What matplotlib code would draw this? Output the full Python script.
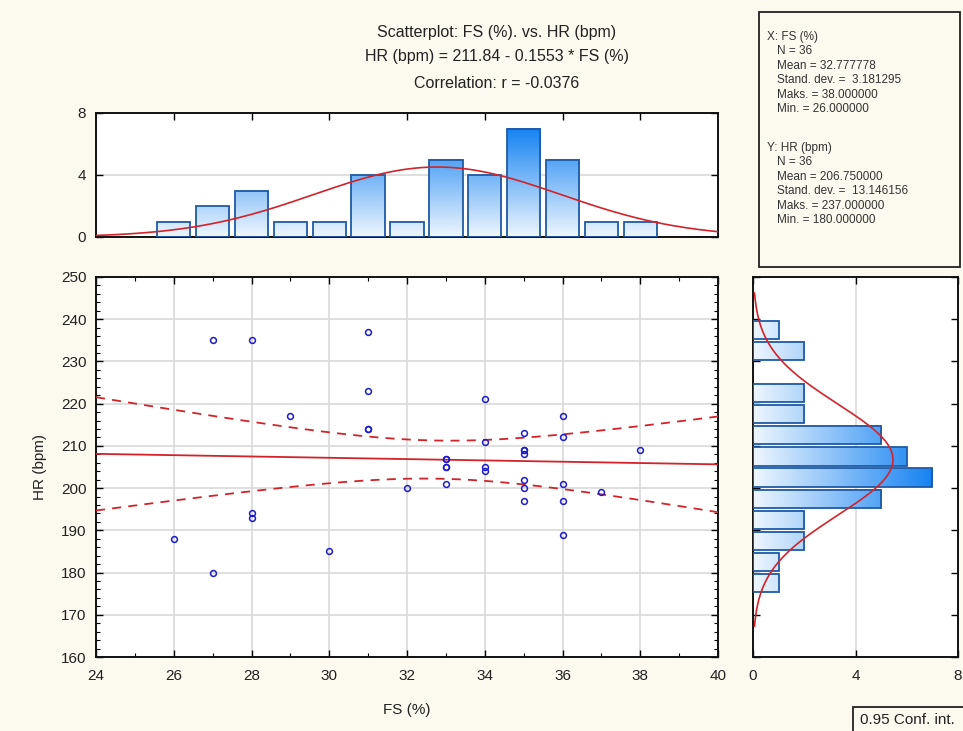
import numpy as np
import matplotlib.pyplot as plt
from matplotlib.colors import LinearSegmentedColormap
from matplotlib.patches import Rectangle
from matplotlib.ticker import MultipleLocator

plt.rcParams['font.family'] = ['Liberation Sans', 'DejaVu Sans']

# FS (%) and HR (bpm) for each subject
fs = np.array([26, 27, 27, 28, 28, 28, 29, 30, 31, 31, 31, 31, 32, 33, 33, 33, 33, 33,
               34, 34, 34, 34, 35, 35, 35, 35, 35, 35, 35, 36, 36, 36, 36, 36, 37, 38])
hr = np.array([188, 235, 180, 235, 194, 193, 217, 185, 237, 223, 214, 214, 200, 207, 207, 205, 205, 201,
               221, 211, 205, 204, 213, 209, 209, 208, 202, 200, 197, 217, 212, 201, 197, 189, 199, 209])

fs_bins = np.arange(26, 39)          # one bar per integer FS value
hr_edges = np.arange(175, 245, 5)    # HR classes (lo, hi]
t_crit = 2.0322                      # t(0.975, df=34)

W, H = 963, 731
bg = '#fcf9ee'
red = '#d2232a'
edge = '#1f5aa6'
grid_c = '#d9d9d9'
txt = '#222222'
blues = LinearSegmentedColormap.from_list('bars', ['#eef6fe', '#1683f2'])


def fig_rect(x0, y0, x1, y1):
    # pixel box (y from top) -> figure fraction
    return [x0 / W, 1 - y1 / H, (x1 - x0) / W, (y1 - y0) / H]


def style_ticks(a):
    a.tick_params(which='both', direction='in', top=True, right=True, colors='black',
                  labelcolor=txt, labelsize=11)
    a.tick_params(which='major', length=5, width=1)
    a.tick_params(which='minor', length=3, width=0.8)
    for s in a.spines.values():
        s.set_linewidth(1.4)
        s.set_color('#111111')


n = len(fs)
slope, intercept = np.polyfit(fs, hr, 1)
r = np.corrcoef(fs, hr)[0, 1]
resid = hr - (intercept + slope * fs)
s_res = np.sqrt(np.sum(resid ** 2) / (n - 2))
sxx = np.sum((fs - fs.mean()) ** 2)

fig = plt.figure(figsize=(W / 100, H / 100), dpi=100, facecolor=bg)
ax = fig.add_axes(fig_rect(96, 277, 718, 657))
ax_top = fig.add_axes(fig_rect(96, 113, 718, 237))
ax_right = fig.add_axes(fig_rect(753, 277, 958, 657))

# --- scatter with regression line and 95% confidence band
xx = np.linspace(24, 40, 200)
yy = intercept + slope * xx
band = t_crit * s_res * np.sqrt(1 / n + (xx - fs.mean()) ** 2 / sxx)
ax.plot(xx, yy, color=red, lw=1.3, zorder=3)
ax.plot(xx, yy + band, color=red, lw=1.3, ls=(0, (5, 4)), zorder=3)
ax.plot(xx, yy - band, color=red, lw=1.3, ls=(0, (5, 4)), zorder=3)
ax.plot(fs, hr, 'o', ms=4.2, mfc='none', mec='#1c1cc8', mew=1.1, zorder=4)
ax.set_xlim(24, 40)
ax.set_ylim(160, 250)
ax.xaxis.set_major_locator(MultipleLocator(2))
ax.xaxis.set_minor_locator(MultipleLocator(1))
ax.yaxis.set_major_locator(MultipleLocator(10))
ax.yaxis.set_minor_locator(MultipleLocator(2))
ax.grid(True, which='major', color=grid_c, lw=1.2)
ax.set_axisbelow(True)
style_ticks(ax)
ax.tick_params(axis='x', pad=9)
ax.tick_params(axis='y', pad=7)
ax.set_xlabel('FS (%)', fontsize=11, color=txt, labelpad=14)
ax.set_ylabel('HR (bpm)', fontsize=11, color=txt, labelpad=10)

# --- FS histogram on top
fs_counts = np.array([np.sum(fs == v) for v in fs_bins])
bw = 0.86
for v, c in zip(fs_bins, fs_counts):
    x0, x1 = v - bw / 2, v + bw / 2
    grad = np.linspace(0, c, 64).reshape(-1, 1)
    ax_top.imshow(grad, extent=[x0, x1, 0, c], origin='lower', cmap=blues, vmin=0, vmax=7,
                  aspect='auto', zorder=2)
    ax_top.add_patch(Rectangle((x0, 0), bw, c, fill=False, ec=edge, lw=1.3, zorder=3))
xf = np.linspace(24, 40, 200)
pdf_x = n * 1 * np.exp(-0.5 * ((xf - fs.mean()) / fs.std(ddof=1)) ** 2) / (fs.std(ddof=1) * np.sqrt(2 * np.pi))
ax_top.plot(xf, pdf_x, color=red, lw=1.2, zorder=4)
ax_top.set_xlim(24, 40)
ax_top.set_ylim(0, 8)
ax_top.set_xticks(np.arange(26, 40, 2))
ax_top.set_xticklabels([])
ax_top.set_yticks([0, 4, 8])
ax_top.grid(True, axis='y', color=grid_c, lw=1.2)
ax_top.set_axisbelow(True)
style_ticks(ax_top)
ax_top.tick_params(axis='y', pad=7)

# --- HR histogram on the right
hr_counts = np.array([np.sum((hr > lo) & (hr <= lo + 5)) for lo in hr_edges[:-1]])
bh = 5 * 0.86
for lo, c in zip(hr_edges[:-1], hr_counts):
    if c == 0:
        continue
    y0 = lo + 2.5 - bh / 2
    grad = np.linspace(0, c, 64).reshape(1, -1)
    ax_right.imshow(grad, extent=[0, c, y0, y0 + bh], origin='lower', cmap=blues, vmin=0, vmax=7,
                    aspect='auto', zorder=2)
    ax_right.add_patch(Rectangle((0, y0), c, bh, fill=False, ec=edge, lw=1.3, zorder=3))
sd_y = hr.std(ddof=1)
yf = np.linspace(hr.mean() - 3 * sd_y, hr.mean() + 3 * sd_y, 200)
pdf_y = n * 5 * np.exp(-0.5 * ((yf - hr.mean()) / sd_y) ** 2) / (sd_y * np.sqrt(2 * np.pi))
ax_right.plot(pdf_y, yf, color=red, lw=1.2, zorder=4)
ax_right.set_xlim(0, 8)
ax_right.set_ylim(160, 250)
ax_right.set_xticks([0, 4, 8])
ax_right.yaxis.set_major_locator(MultipleLocator(10))
ax_right.set_yticklabels([])
ax_right.grid(True, axis='x', color=grid_c, lw=1.2)
ax_right.set_axisbelow(True)
style_ticks(ax_right)
ax_right.tick_params(axis='x', pad=9)

# --- titles
titles = [
    'Scatterplot: FS (%). vs. HR (bpm)',
    f'HR (bpm) = {intercept:.2f} - {abs(slope):.4f} * FS (%)',
    f'Correlation: r = {r:.4f}',
]
for t, ypx in zip(titles, [32, 57, 83]):
    fig.text(497 / W, 1 - ypx / H, t, fontsize=11.5, ha='center', va='center', color=txt)

# --- descriptive statistics box
fig.patches.append(Rectangle((759 / W, 1 - 267 / H), 201 / W, 255 / H, transform=fig.transFigure,
                             fill=False, ec='#222222', lw=1.3))


def stat_lines(tag, name, v):
    return [f'{tag}: {name}',
            f'N = {len(v)}',
            f'Mean = {v.mean():.6f}',
            f'Stand. dev. =  {v.std(ddof=1):.6f}',
            f'Maks. = {v.max():.6f}',
            f'Min. = {v.min():.6f}']


blocks = [(stat_lines('X', 'FS (%)', fs), 37), (stat_lines('Y', 'HR (bpm)', hr), 148)]
for lines, ytop in blocks:
    for i, line in enumerate(lines):
        xpx = 767 if i == 0 else 777
        fig.text(xpx / W, 1 - (ytop + i * 14.4) / H, line, fontsize=8.5, ha='left', va='center',
                 color='#333333')

# --- legend box at the lower right corner
fig.patches.append(Rectangle((853 / W, 1 - 760 / H), 150 / W, 53 / H, transform=fig.transFigure,
                             fill=False, ec='#222222', lw=1.3))
fig.text(860 / W, 1 - 720 / H, '0.95 Conf. int.', fontsize=11, ha='left', va='center', color=txt)

fig.savefig('out.png', dpi=100, facecolor=bg)
